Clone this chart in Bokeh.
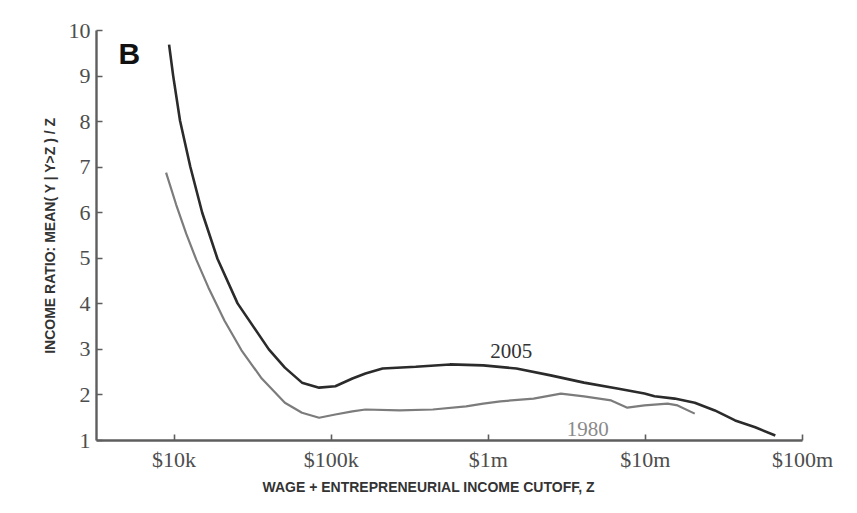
from bokeh.plotting import figure
from bokeh.models import Range1d, FixedTicker, CustomJSTickFormatter, Label, Title
from bokeh.embed import file_html
from bokeh.resources import INLINE

# ---- data ----
cutoff_2005 = [9290, 9860, 10910, 12680, 15100, 18880, 25350, 40090, 50700,
               65160, 83750, 106200, 136500, 165200, 212300, 345100, 570200, 929000,
               1510000, 2495000, 4064000, 6622000, 9863000, 11430000, 15350000,
               20610000, 27670000, 37240000, 50000000, 67140000]
ratio_2005 = [9.69, 9.01, 8.02, 7.01, 6.00, 4.99, 4.01, 3.00, 2.60,
              2.27, 2.16, 2.19, 2.36, 2.47, 2.58, 2.62, 2.67, 2.65,
              2.58, 2.43, 2.27, 2.14, 2.03, 1.97, 1.92,
              1.83, 1.66, 1.44, 1.29, 1.11]

cutoff_1980 = [8890, 10300, 11940, 13840, 16520, 20940, 26850, 36140, 50700, 65160, 83750,
               106200, 136500, 165200, 272900, 443600, 722300, 929000, 1194000,
               1941000, 2897000, 4064000, 6053000, 7674000, 9863000, 13840000,
               16030000, 20610000]
ratio_1980 = [6.88, 6.18, 5.54, 4.97, 4.36, 3.63, 2.98, 2.36, 1.83, 1.61, 1.50,
              1.57, 1.64, 1.68, 1.66, 1.68, 1.75, 1.81, 1.86,
              1.92, 2.03, 1.97, 1.88, 1.72, 1.77, 1.81,
              1.77, 1.59]

x_tick_values = [1e4, 1e5, 1e6, 1e7, 1e8]
x_tick_labels = ["$10k", "$100k", "$1m", "$10m", "$100m"]
y_tick_values = [1, 2, 3, 4, 5, 6, 7, 8, 9, 10]

series_labels = ["2005", "1980"]
label_pos_x = [1.4e6, 4.3e6]
label_pos_y = [2.975, 1.26]

x_title = "WAGE + ENTREPRENEURIAL INCOME CUTOFF, Z"
y_title = "INCOME RATIO: MEAN( Y | Y>Z ) / Z"
panel_title = "B"

# ---- figure ----
p = figure(width=857, height=513, x_axis_type="log",
           x_range=Range1d(10 ** 3.506, 1e8), y_range=Range1d(1, 10),
           output_backend="svg", toolbar_location=None,
           min_border_left=96, min_border_right=55,
           min_border_top=30, min_border_bottom=73)
p.outline_line_color = None
p.grid.visible = False
p.background_fill_color = "white"
p.border_fill_color = "white"

axis_color = "#5e5e5e"
for ax in (p.xaxis[0], p.yaxis[0]):
    ax.axis_line_color = axis_color
    ax.axis_line_width = 2.4
    ax.major_tick_line_color = axis_color
    ax.major_tick_line_width = 1.6
    ax.major_tick_in = 6
    ax.major_tick_out = 0
    ax.minor_tick_line_color = None
    ax.major_label_text_font = "Liberation Serif"
    ax.major_label_text_font_size = "22px"
    ax.major_label_text_color = "#4d4d4d"

p.xaxis.ticker = FixedTicker(ticks=x_tick_values)
p.xaxis.formatter = CustomJSTickFormatter(
    args=dict(labels=x_tick_labels),
    code="const i = Math.round(Math.log10(tick)) - 4; return (i >= 0 && i < labels.length) ? labels[i] : '';")
p.xaxis.major_label_standoff = 6

p.yaxis.ticker = FixedTicker(ticks=y_tick_values)
p.yaxis.major_label_standoff = 6
p.yaxis.axis_label = y_title
p.yaxis.axis_label_text_font = "Liberation Sans"
p.yaxis.axis_label_text_font_style = "bold"
p.yaxis.axis_label_text_font_size = "14px"
p.yaxis.axis_label_text_color = "#333333"
p.yaxis.axis_label_standoff = 8

# x title as a left-aligned Title so it can be offset like the original
p.add_layout(Title(text=x_title, align="left", offset=166,
                   text_font="Liberation Sans", text_font_style="bold",
                   text_font_size="14px", text_color="#333333", standoff=4), "below")

# ---- lines ----
p.line(cutoff_1980, ratio_1980, line_color="#7c7c7c", line_width=2.2)
p.line(cutoff_2005, ratio_2005, line_color="#2b2b2b", line_width=2.6)

# ---- series labels ----
p.add_layout(Label(x=label_pos_x[0], y=label_pos_y[0], text=series_labels[0],
                   text_font="Liberation Serif", text_font_size="21px",
                   text_color="#333333", text_align="center", text_baseline="middle"))
p.add_layout(Label(x=label_pos_x[1], y=label_pos_y[1], text=series_labels[1],
                   text_font="Liberation Serif", text_font_size="21px",
                   text_color="#8a8a8a", text_align="center", text_baseline="middle"))

# ---- panel letter ----
p.add_layout(Label(x=22, y=387, x_units="screen", y_units="screen", text=panel_title,
                   text_font="Liberation Sans", text_font_style="bold",
                   text_font_size="30px", text_color="#111111",
                   text_align="left", text_baseline="alphabetic"))

open("out.html", "w").write(file_html(p, INLINE))
